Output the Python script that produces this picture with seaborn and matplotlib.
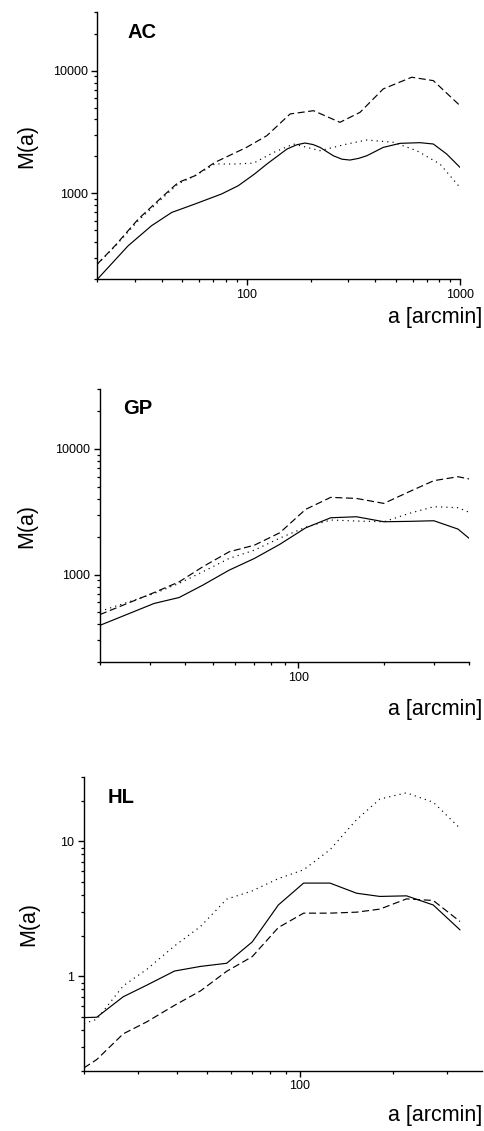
import numpy as np
import pandas as pd
import matplotlib
matplotlib.use("Agg")
import matplotlib.pyplot as plt
import matplotlib.ticker as mticker
import seaborn as sns

# ---------------- data ----------------
# AC panel
ac_solid_x = [20, 27.9, 35.9, 44.6, 57.3, 76.3, 91.4, 109, 124.5, 154.6, 172, 188, 205, 221, 255, 280, 305, 335, 366, 437, 524, 650, 750, 866, 1000]
ac_solid_y = [200, 375, 546, 700, 820, 989, 1155, 1439, 1734, 2297, 2490, 2573, 2500, 2371, 2027, 1900, 1870, 1930, 2027, 2371, 2558, 2590, 2526, 2094, 1630]
ac_dash_x = [20, 24.2, 31.1, 40, 47.9, 57.3, 71.1, 100, 124.5, 160, 206, 274, 340, 437, 594, 750, 1000]
ac_dash_y = [266, 375, 618, 928, 1229, 1393, 1790, 2371, 2952, 4437, 4717, 3793, 4571, 7097, 8832, 8286, 5188]
ac_dot_x = [20, 24.2, 31.1, 40, 47.9, 57.3, 71.1, 86.9, 108, 134, 166, 221, 295, 366, 488, 627, 806, 1000]
ac_dot_y = [266, 370, 600, 900, 1200, 1390, 1740, 1734, 1766, 2158, 2525, 2229, 2525, 2722, 2608, 2229, 1734, 1119]

# GP panel
gp_x = [20, 31, 38, 46, 57, 70, 86, 106, 130, 160, 200, 246, 300, 365, 400]
gp_solid_y = [394, 588, 656, 822, 1083, 1343, 1740, 2350, 2830, 2884, 2631, 2650, 2680, 2300, 1936]
gp_dash_y = [480, 718, 874, 1151, 1516, 1713, 2150, 3300, 4115, 4035, 3683, 4571, 5589, 6006, 5765]
gp_dot_y = [509, 705, 850, 1050, 1343, 1563, 1950, 2380, 2716, 2667, 2631, 3070, 3467, 3404, 3126]

# HL panel
hl_x = [20, 22, 26.8, 32, 39.3, 47.7, 58, 70.2, 85.3, 103, 125.4, 153, 182, 222, 271, 331]
hl_solid_y = [0.495, 0.498, 0.706, 0.862, 1.095, 1.185, 1.25, 1.80, 3.38, 4.91, 4.91, 4.13, 3.91, 3.95, 3.38, 2.21]
hl_dash_y = [0.21, 0.242, 0.375, 0.461, 0.61, 0.78, 1.09, 1.40, 2.3, 2.94, 2.94, 2.99, 3.15, 3.75, 3.65, 2.55]
hl_dot_y = [0.448, 0.48, 0.85, 1.13, 1.68, 2.34, 3.73, 4.3, 5.3, 6.16, 8.67, 14.5, 20.6, 22.9, 19.5, 12.5]

panel_names = ["AC", "GP", "HL"]
x_limits = [(20, 1000), (20, 400), (20, 390)]
y_limits = [(200, 30000), (200, 30000), (0.2, 30)]
x_major = [[100, 1000], [100], [100]]
x_major_labels = [["100", "1000"], ["100"], ["100"]]
y_major = [[1000, 10000], [1000, 10000], [1, 10]]
y_major_labels = [["1000", "10000"], ["1000", "10000"], ["1", "10"]]

# ---------------- style ----------------
sns.set_style("ticks")
plt.rcParams["font.family"] = ["Liberation Sans", "DejaVu Sans"]
plt.rcParams["axes.linewidth"] = 1.0
for key in ["text.color", "axes.labelcolor", "xtick.color", "ytick.color", "axes.edgecolor"]:
    plt.rcParams[key] = "black"

W, H = 485, 1131
fig = plt.figure(figsize=(W / 100, H / 100), dpi=100)

# axes boxes in pixel coordinates: left, top, right, bottom
boxes = [(97.3, 12, 460, 279.3), (100, 389, 469.3, 662.3), (84, 777, 482, 1070.7)]
title_pos = [(128, 33), (123, 409), (108, 797.5)]
ylab_pos = [(26.5, 146), (26.5, 526), (28.5, 924)]
xlab_pos = [(482, 318), (482, 709), (482, 1116)]

series = [
    [(ac_solid_x, ac_solid_y, "-"), (ac_dash_x, ac_dash_y, (0, (6, 3))), (ac_dot_x, ac_dot_y, (0, (1, 3.5)))],
    [(gp_x, gp_solid_y, "-"), (gp_x, gp_dash_y, (0, (6, 3))), (gp_x, gp_dot_y, (0, (1, 3.5)))],
    [(hl_x, hl_solid_y, "-"), (hl_x, hl_dash_y, (0, (6, 3))), (hl_x, hl_dot_y, (0, (1, 3.5)))],
]

for i in range(3):
    l, t, r, b = boxes[i]
    ax = fig.add_axes([l / W, 1 - b / H, (r - l) / W, (b - t) / H])
    for xs, ys, ls in series[i]:
        df = pd.DataFrame({"a": xs, "M": ys})
        sns.lineplot(data=df, x="a", y="M", ax=ax, color="black", linewidth=0.85,
                     linestyle=ls, estimator=None, sort=False)
    ax.set_xscale("log")
    ax.set_yscale("log")
    ax.set_xlim(*x_limits[i])
    ax.set_ylim(*y_limits[i])
    ax.xaxis.set_major_locator(mticker.FixedLocator(x_major[i]))
    ax.xaxis.set_major_formatter(mticker.FixedFormatter(x_major_labels[i]))
    ax.yaxis.set_major_locator(mticker.FixedLocator(y_major[i]))
    ax.yaxis.set_major_formatter(mticker.FixedFormatter(y_major_labels[i]))
    ax.xaxis.set_minor_locator(mticker.LogLocator(base=10, subs=np.arange(2, 10), numticks=20))
    ax.yaxis.set_minor_locator(mticker.LogLocator(base=10, subs=np.arange(2, 10), numticks=20))
    ax.xaxis.set_minor_formatter(mticker.NullFormatter())
    ax.yaxis.set_minor_formatter(mticker.NullFormatter())
    ax.tick_params(which="major", direction="out", length=4, width=1.0, labelsize=9, pad=3,
                   colors="black")
    ax.tick_params(which="minor", direction="out", length=2.5, width=0.9, colors="black")
    ax.set_xlabel("")
    ax.set_ylabel("")
    sns.despine(ax=ax)
    ax.patch.set_alpha(0)

    tx, ty = title_pos[i]
    fig.text(tx / W, 1 - ty / H, panel_names[i], fontsize=14.5, fontweight="bold",
             ha="left", va="center", color="black")
    yx, yy = ylab_pos[i]
    fig.text(yx / W, 1 - yy / H, "M(a)", fontsize=15.5, rotation=90, ha="center", va="center",
             color="black")
    xx, xy = xlab_pos[i]
    fig.text(xx / W, 1 - xy / H, "a [arcmin]", fontsize=15.5, ha="right", va="center",
             color="black")

fig.savefig("out.png", dpi=100)
